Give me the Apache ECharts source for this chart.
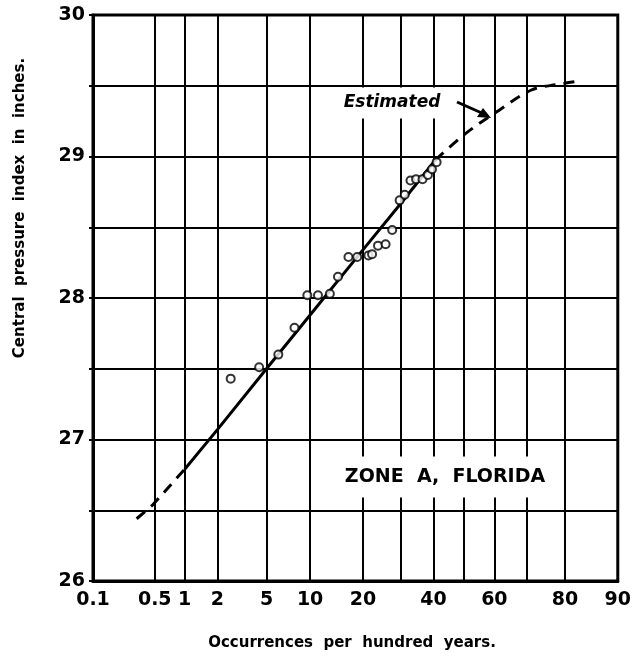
<!DOCTYPE html>
<html>
<head>
<meta charset="utf-8">
<script src="https://cdn.jsdelivr.net/npm/echarts@6/dist/echarts.min.js"></script>
<style>
html,body{margin:0;padding:0;background:#fff;}
#chart{width:634px;height:660px;}
</style>
</head>
<body>
<div id="chart"></div>
<script>
// ---- data (percent occurrences per hundred years, pressure in inches) ----
const xGridPct = [0.1, 0.5, 1, 2, 5, 10, 20, 30, 40, 50, 60, 70, 80, 90];
const xLabelPct = [0.1, 0.5, 1, 2, 5, 10, 20, 40, 60, 80, 90];
const yMin = 26, yMax = 30, yStep = 0.5;

const obsPct = [2.6, 4.4, 6.1, 7.9, 9.6, 11.2, 13.2, 14.7, 16.8, 18.7, 21.3, 22.2, 23.7, 25.7, 27.5, 29.6, 31.1, 32.8, 34.5, 36.5, 38.2, 39.5, 41.0];
const obsPressure = [27.43, 27.51, 27.60, 27.79, 28.02, 28.02, 28.03, 28.15, 28.29, 28.29, 28.30, 28.31, 28.37, 28.38, 28.48, 28.69, 28.73, 28.83, 28.84, 28.84, 28.87, 28.91, 28.96];

const fitPct = [1, 2, 5, 10, 20, 30, 40.6];
const fitPressure = [26.79, 27.07, 27.50, 27.88, 28.34, 28.67, 28.975];

const estLowPct = [0.32, 0.48, 1];
const estLowPressure = [26.44, 26.54, 26.79];

const estHighPct = [40.6, 50.4, 59.7, 71.3, 78.4, 82.5];
const estHighPressure = [28.975, 29.16, 29.30, 29.47, 29.51, 29.53];

// ---- probability (normal) scale transform ----
function probit(p){
  const a=[-3.969683028665376e+01,2.209460984245205e+02,-2.759285104469687e+02,1.383577518672690e+02,-3.066479806614716e+01,2.506628277459239e+00];
  const b=[-5.447609879822406e+01,1.615858368580409e+02,-1.556989798598866e+02,6.680131188771972e+01,-1.328068155288572e+01];
  const c=[-7.784894002430293e-03,-3.223964580411365e-01,-2.400758277161838e+00,-2.549732539343734e+00,4.374664141464968e+00,2.938163982698783e+00];
  const d=[7.784695709041462e-03,3.224671290700398e-01,2.445134137142996e+00,3.754408661907416e+00];
  const pl=0.02425, ph=1-pl; let q,r;
  if(p<pl){q=Math.sqrt(-2*Math.log(p));return (((((c[0]*q+c[1])*q+c[2])*q+c[3])*q+c[4])*q+c[5])/((((d[0]*q+d[1])*q+d[2])*q+d[3])*q+1);}
  if(p<=ph){q=p-0.5;r=q*q;return (((((a[0]*r+a[1])*r+a[2])*r+a[3])*r+a[4])*r+a[5])*q/(((((b[0]*r+b[1])*r+b[2])*r+b[3])*r+b[4])*r+1);}
  q=Math.sqrt(-2*Math.log(1-p));return -(((((c[0]*q+c[1])*q+c[2])*q+c[3])*q+c[4])*q+c[5])/((((d[0]*q+d[1])*q+d[2])*q+d[3])*q+1);
}
const zOf = pct => probit(pct/100);
const pairs = (xs, ys) => xs.map((x,i)=>[zOf(x), ys[i]]);

const xMinZ = zOf(xGridPct[0]);
const xMaxZ = zOf(xGridPct[xGridPct.length-1]);

function labelFor(z){
  for(const p of xLabelPct){ if(Math.abs(zOf(p)-z) < 1e-6) return String(p); }
  return '';
}

const font = '"DejaVu Sans", sans-serif';
const chart = echarts.init(document.getElementById('chart'), null, {renderer:'canvas'});
chart.setOption({
  animation:false,
  backgroundColor:'#fff',
  grid:{left:93, right:14, top:15, bottom:79, show:true, borderColor:'#000', borderWidth:3, backgroundColor:'transparent'},
  xAxis:{
    type:'value', min:xMinZ, max:xMaxZ,
    axisLine:{show:true, onZero:false, lineStyle:{color:'#000', width:3}},
    axisTick:{show:false, customValues:xGridPct.map(zOf)},
    axisLabel:{customValues:xLabelPct.map(zOf), formatter:v=>labelFor(v), color:'#000', fontSize:19, fontWeight:'bold', fontFamily:font, margin:10, hideOverlap:false, showMinLabel:true, showMaxLabel:true},
    splitLine:{show:true, lineStyle:{color:'#000', width:2}}
  },
  yAxis:{
    type:'value', min:yMin, max:yMax, interval:yStep,
    axisLine:{show:true, onZero:false, lineStyle:{color:'#000', width:3}},
    axisTick:{show:true, length:4, lineStyle:{color:'#000', width:2}},
    axisLabel:{formatter:v=> (Math.abs(v-Math.round(v))<1e-9 ? String(Math.round(v)) : ''), color:'#000', fontSize:19, fontWeight:'bold', fontFamily:font, margin:8},
    splitLine:{show:true, lineStyle:{color:'#000', width:2}}
  },
  series:[
    {type:'line', data:pairs(fitPct, fitPressure), symbol:'none', lineStyle:{color:'#000', width:3}, z:3},
    {type:'line', data:pairs(estLowPct, estLowPressure), symbol:'none', lineStyle:{color:'#000', width:3, type:[11,8]}, z:3},
    {type:'line', data:pairs(estHighPct, estHighPressure), symbol:'none', smooth:0.35, lineStyle:{color:'#000', width:3, type:[11,8]}, z:3},
    {type:'scatter', data:pairs(obsPct, obsPressure), symbol:'circle', symbolSize:8, itemStyle:{color:'#fff', borderColor:'#000', borderWidth:2}, z:4}
  ],
  graphic:[
    {type:'text', x:352, y:643, z:10, style:{text:'Occurrences  per  hundred  years.', fill:'#000', font:'bold 15px "DejaVu Sans", sans-serif', align:'center', verticalAlign:'middle'}},
    {type:'text', x:20, y:208, rotation:Math.PI/2, z:10, style:{text:'Central  pressure  index  in  inches.', fill:'#000', font:'bold 15px "DejaVu Sans", sans-serif', align:'center', verticalAlign:'middle'}},
    {type:'text', x:445, y:477, z:10, style:{text:'ZONE  A,  FLORIDA', fill:'#000', font:'bold 19px "DejaVu Sans", sans-serif', align:'center', verticalAlign:'middle', backgroundColor:'#fff', padding:[11,8,11,8]}},
    {type:'text', x:392, y:103, z:10, style:{text:'Estimated', fill:'#000', font:'italic bold 17px "DejaVu Sans", sans-serif', align:'center', verticalAlign:'middle', backgroundColor:'#fff', padding:[7,6,7,6]}},
    {type:'line', z:10, shape:{x1:457, y1:102, x2:484, y2:114}, style:{stroke:'#000', lineWidth:3}},
    {type:'polygon', z:10, shape:{points:[[491,118],[477,117],[483,108]]}, style:{fill:'#000'}}
  ]
});
</script>
</body>
</html>
